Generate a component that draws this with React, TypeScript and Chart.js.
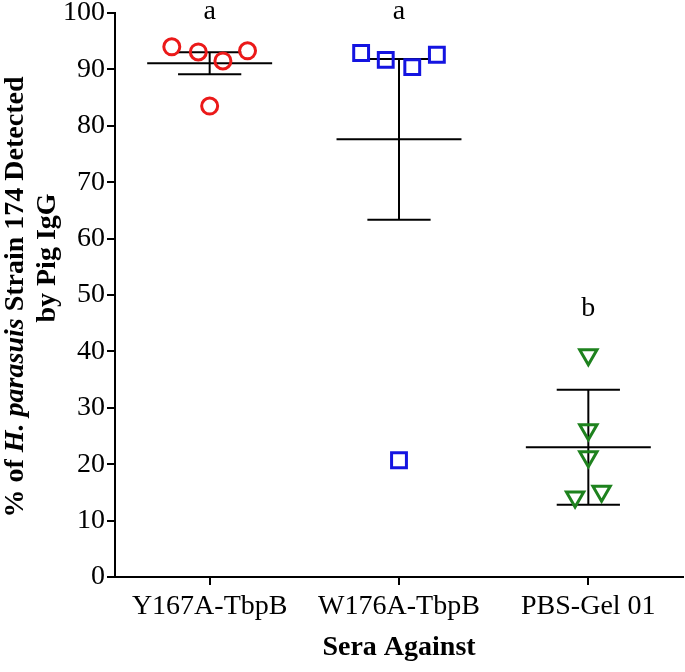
import React, { useEffect, useRef } from "react";
import { Chart, registerables } from "chart.js";

Chart.register(...registerables);

const categories = ["Y167A-TbpB", "W176A-TbpB", "PBS-Gel 01"];
const y167aValues = [94.0, 93.1, 91.5, 93.3, 83.5];
const y167aPositions = [0.8, 0.94, 1.07, 1.2, 1.0];
const w176aValues = [92.9, 91.7, 90.4, 92.6, 20.7];
const w176aPositions = [1.8, 1.93, 2.07, 2.2, 2.0];
const pbsValues = [39.4, 26.1, 21.3, 15.2, 14.2];
const pbsPositions = [3.0, 3.0, 3.0, 3.07, 2.93];
const groupMeans = [91.1, 77.6, 23.0];
const groupErrors = [1.95, 14.25, 10.2];
const significanceLetters = ["a", "a", "b"];
const letterValues = [100.2, 100.2, 47.6];
const yTickValues = [0, 10, 20, 30, 40, 50, 60, 70, 80, 90, 100];

const SERIF = "'Liberation Serif', 'Times New Roman', serif";
const FS = 28;
const MEAN_HALF = 0.33;
const CAP_HALF = 0.167;

function lineDs(points: { x: number; y: number }[]) {
  return {
    type: "scatter" as const,
    data: points,
    showLine: true,
    borderColor: "#000",
    borderWidth: 2,
    pointRadius: 0,
    pointHoverRadius: 0,
  };
}

const annotationPlugin = {
  id: "annot",
  afterDraw(chart: any) {
    const { ctx, scales } = chart;
    const xs = scales.x;
    const ys = scales.y;
    ctx.save();
    ctx.fillStyle = "#000";
    ctx.textAlign = "center";
    ctx.textBaseline = "middle";
    ctx.font = `${FS}px ${SERIF}`;
    significanceLetters.forEach((l, i) => {
      ctx.fillText(l, xs.getPixelForValue(i + 1), ys.getPixelForValue(letterValues[i]));
    });
    // y axis title
    const segs = [
      { t: "% of ", f: `bold ${FS}px ${SERIF}` },
      { t: "H. parasuis", f: `italic bold ${FS}px ${SERIF}` },
      { t: " Strain 174 Detected", f: `bold ${FS}px ${SERIF}` },
    ];
    let total = 0;
    segs.forEach((s) => {
      ctx.font = s.f;
      total += ctx.measureText(s.t).width;
    });
    ctx.translate(16, 297);
    ctx.rotate(-Math.PI / 2);
    ctx.textAlign = "left";
    let x = -total / 2;
    segs.forEach((s) => {
      ctx.font = s.f;
      ctx.fillText(s.t, x, 0);
      x += ctx.measureText(s.t).width;
    });
    ctx.restore();
    ctx.save();
    ctx.fillStyle = "#000";
    ctx.textAlign = "center";
    ctx.textBaseline = "middle";
    ctx.font = `bold ${FS}px ${SERIF}`;
    ctx.translate(48, 258);
    ctx.rotate(-Math.PI / 2);
    ctx.fillText("by Pig IgG", 0, 0);
    ctx.restore();
  },
};

export default function App() {
  const ref = useRef<HTMLCanvasElement>(null);
  useEffect(() => {
    if (!ref.current) return;
    const errDatasets: any[] = [];
    groupMeans.forEach((m, i) => {
      const c = i + 1;
      const e = groupErrors[i];
      errDatasets.push(lineDs([{ x: c - MEAN_HALF, y: m }, { x: c + MEAN_HALF, y: m }]));
      errDatasets.push(lineDs([{ x: c, y: m - e }, { x: c, y: m + e }]));
      errDatasets.push(lineDs([{ x: c - CAP_HALF, y: m + e }, { x: c + CAP_HALF, y: m + e }]));
      errDatasets.push(lineDs([{ x: c - CAP_HALF, y: m - e }, { x: c + CAP_HALF, y: m - e }]));
    });
    const chart = new Chart(ref.current, {
      type: "scatter",
      data: {
        datasets: [
          {
            data: y167aValues.map((v, i) => ({ x: y167aPositions[i], y: v })),
            pointStyle: "circle",
            pointRadius: 8,
            borderWidth: 3,
            borderColor: "rgb(235,25,25)",
            backgroundColor: "rgba(0,0,0,0)",
          },
          {
            data: w176aValues.map((v, i) => ({ x: w176aPositions[i], y: v })),
            pointStyle: "rect",
            pointRadius: 10.5,
            borderWidth: 3,
            borderColor: "rgb(20,20,225)",
            backgroundColor: "rgba(0,0,0,0)",
          },
          {
            data: pbsValues.map((v, i) => ({ x: pbsPositions[i], y: v })),
            pointStyle: "triangle",
            rotation: 180,
            pointRadius: 10,
            borderWidth: 3,
            borderColor: "rgb(30,130,30)",
            backgroundColor: "rgba(0,0,0,0)",
          },
          ...errDatasets,
        ],
      },
      options: {
        animation: false,
        responsive: true,
        maintainAspectRatio: false,
        events: [],
        layout: { autoPadding: false, padding: { left: 0, right: 2, top: 13, bottom: 0 } },
        plugins: { legend: { display: false }, tooltip: { enabled: false } },
        scales: {
          x: {
            type: "linear",
            min: 0.5,
            max: 3.5,
            afterBuildTicks: (s: any) => {
              s.ticks = categories.map((_, i) => ({ value: i + 1 }));
            },
            afterFit: (s: any) => {
              s.height = 95;
              s.paddingLeft = 0;
              s.paddingRight = 0;
            },
            ticks: {
              callback: (v: any) => categories[Math.round(v) - 1] ?? "",
              font: { family: SERIF, size: FS },
              color: "#000",
              padding: 5,
              maxRotation: 0,
              autoSkip: false,
            },
            grid: { drawOnChartArea: false, drawTicks: true, tickLength: 8, color: "#000", lineWidth: 2 },
            border: { color: "#000", width: 2 },
            title: {
              display: true,
              text: "Sera Against",
              font: { family: SERIF, size: FS, weight: "bold" },
              color: "#000",
              padding: { top: 0, bottom: 7 },
            },
          },
          y: {
            type: "linear",
            min: 0,
            max: 100,
            afterBuildTicks: (s: any) => {
              s.ticks = yTickValues.map((v) => ({ value: v }));
            },
            afterFit: (s: any) => {
              s.width = 115;
              s.paddingTop = 0;
              s.paddingBottom = 0;
            },
            ticks: {
              font: { family: SERIF, size: FS },
              color: "#000",
              padding: 2,
            },
            grid: { drawOnChartArea: false, drawTicks: true, tickLength: 8, color: "#000", lineWidth: 2 },
            border: { color: "#000", width: 2 },
          },
        },
      },
      plugins: [annotationPlugin],
    } as any);
    return () => chart.destroy();
  }, []);
  return (
    <div
      style={{
        position: "absolute",
        left: 0,
        top: 0,
        width: 685,
        height: 672,
        overflow: "hidden",
        background: "#fff",
      }}
    >
      <canvas ref={ref} style={{ display: "block" }} />
    </div>
  );
}
